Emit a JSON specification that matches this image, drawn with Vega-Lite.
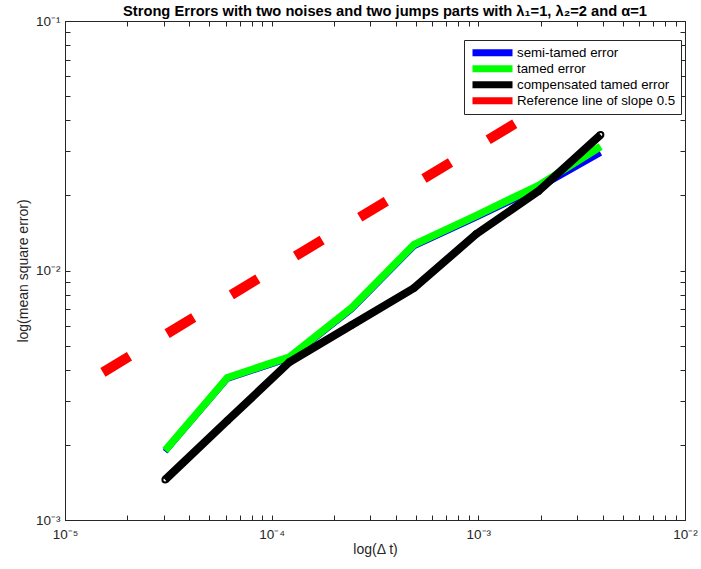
{
  "$schema": "https://vega.github.io/schema/vega-lite/v6.json",
  "width": 620,
  "height": 499,
  "autosize": "none",
  "padding": {"left": 65, "top": 21, "right": 16, "bottom": 49},
  "background": "white",
  "title": {
    "text": "Strong Errors with two noises and two jumps parts with λ₁=1, λ₂=2 and α=1",
    "font": "Liberation Sans",
    "fontSize": 14.7,
    "fontWeight": "bold",
    "color": "#000000",
    "anchor": "middle",
    "offset": 6,
    "dx": 10,
    "dy": 11
  },
  "datasets": {
    "errs": [
      {"dt": 3.0518e-5, "err": 0.00188, "series": "semi-tamed error"},
      {"dt": 6.1035e-5, "err": 0.00368, "series": "semi-tamed error"},
      {"dt": 1.2207e-4, "err": 0.00445, "series": "semi-tamed error"},
      {"dt": 2.4414e-4, "err": 0.0070, "series": "semi-tamed error"},
      {"dt": 4.8828e-4, "err": 0.0125, "series": "semi-tamed error"},
      {"dt": 9.7656e-4, "err": 0.0163, "series": "semi-tamed error"},
      {"dt": 1.9531e-3, "err": 0.0214, "series": "semi-tamed error"},
      {"dt": 3.9063e-3, "err": 0.0296, "series": "semi-tamed error"},
      {"dt": 3.0518e-5, "err": 0.0019, "series": "tamed error"},
      {"dt": 6.1035e-5, "err": 0.00372, "series": "tamed error"},
      {"dt": 1.2207e-4, "err": 0.0045, "series": "tamed error"},
      {"dt": 2.4414e-4, "err": 0.0071, "series": "tamed error"},
      {"dt": 4.8828e-4, "err": 0.0127, "series": "tamed error"},
      {"dt": 9.7656e-4, "err": 0.0166, "series": "tamed error"},
      {"dt": 1.9531e-3, "err": 0.0219, "series": "tamed error"},
      {"dt": 3.9063e-3, "err": 0.0314, "series": "tamed error"},
      {"dt": 3.0518e-5, "err": 0.00145, "series": "compensated tamed error"},
      {"dt": 6.1035e-5, "err": 0.0025, "series": "compensated tamed error"},
      {"dt": 1.2207e-4, "err": 0.0043, "series": "compensated tamed error"},
      {"dt": 2.4414e-4, "err": 0.00605, "series": "compensated tamed error"},
      {"dt": 4.8828e-4, "err": 0.0085, "series": "compensated tamed error"},
      {"dt": 9.7656e-4, "err": 0.0140, "series": "compensated tamed error"},
      {"dt": 1.9531e-3, "err": 0.0208, "series": "compensated tamed error"},
      {"dt": 3.9063e-3, "err": 0.0350, "series": "compensated tamed error"},
      {"dt": 1.5259e-5, "err": 0.003906, "series": "Reference line of slope 0.5"},
      {"dt": 1.9531e-3, "err": 0.04419, "series": "Reference line of slope 0.5"}
    ]
  },
  "data": {"name": "errs"},
  "resolve": {"axis": {"x": "independent", "y": "independent"}},
  "layer": [
    {
      "transform": [{"filter": "datum.series === 'semi-tamed error'"}],
      "mark": {"type": "line", "strokeWidth": 6},
      "encoding": {
        "x": {
          "field": "dt", "type": "quantitative",
          "scale": {"type": "log", "domain": [1e-5, 1e-2], "nice": false},
          "axis": {
            "orient": "bottom",
            "values": [1e-5, 2e-5, 3e-5, 4e-5, 5e-5, 6e-5, 7e-5, 8e-5, 9e-5, 1e-4, 2e-4, 3e-4, 4e-4, 5e-4, 6e-4, 7e-4, 8e-4, 9e-4, 1e-3, 2e-3, 3e-3, 4e-3, 5e-3, 6e-3, 7e-3, 8e-3, 9e-3, 1e-2],
            "labelExpr": "abs(datum.value / pow(10, round(log(datum.value)/LN10)) - 1) < 0.001 ? '10' + ['⁰','⁻¹','⁻²','⁻³','⁻⁴','⁻⁵'][-round(log(datum.value)/LN10)] : ''",
            "labelPadding": 12,
            "title": "log(Δ t)",
            "titlePadding": 2
          }
        },
        "y": {
          "field": "err", "type": "quantitative",
          "scale": {"type": "log", "domain": [1e-3, 1e-1], "nice": false},
          "axis": {
            "orient": "left",
            "values": [1e-3, 2e-3, 3e-3, 4e-3, 5e-3, 6e-3, 7e-3, 8e-3, 9e-3, 1e-2, 2e-2, 3e-2, 4e-2, 5e-2, 6e-2, 7e-2, 8e-2, 9e-2, 1e-1],
            "labelExpr": "abs(datum.value / pow(10, round(log(datum.value)/LN10)) - 1) < 0.001 ? '10' + ['⁰','⁻¹','⁻²','⁻³','⁻⁴','⁻⁵'][-round(log(datum.value)/LN10)] : ''",
            "labelPadding": 10,
            "title": "log(mean square error)",
            "titlePadding": 5
          }
        },
        "color": {
          "field": "series", "type": "nominal",
          "scale": {
            "domain": ["semi-tamed error", "tamed error", "compensated tamed error", "Reference line of slope 0.5"],
            "range": ["#0000ff", "#00ff00", "#000000", "#ff0000"]
          }
        }
      }
    },
    {
      "transform": [{"filter": "datum.series === 'tamed error'"}],
      "mark": {"type": "line", "strokeWidth": 7.5},
      "encoding": {
        "x": {"field": "dt", "type": "quantitative", "axis": null},
        "y": {"field": "err", "type": "quantitative", "axis": null},
        "color": {"field": "series", "type": "nominal"}
      }
    },
    {
      "transform": [{"filter": "datum.series === 'compensated tamed error'"}],
      "mark": {"type": "line", "strokeWidth": 8, "point": {"filled": false, "size": 30, "strokeWidth": 2, "color": "#000000"}},
      "encoding": {
        "x": {"field": "dt", "type": "quantitative", "axis": null},
        "y": {"field": "err", "type": "quantitative", "axis": null},
        "color": {"field": "series", "type": "nominal"}
      }
    },
    {
      "transform": [{"filter": "datum.series === 'Reference line of slope 0.5'"}],
      "mark": {"type": "line", "strokeWidth": 10, "strokeDash": [31, 44]},
      "encoding": {
        "x": {"field": "dt", "type": "quantitative", "axis": null},
        "y": {"field": "err", "type": "quantitative", "axis": null},
        "color": {"field": "series", "type": "nominal"}
      }
    },
    {
      "mark": {"type": "line", "opacity": 0},
      "encoding": {
        "x": {
          "field": "dt", "type": "quantitative",
          "axis": {
            "orient": "top", "labels": false, "title": null,
            "values": [1e-5, 2e-5, 3e-5, 4e-5, 5e-5, 6e-5, 7e-5, 8e-5, 9e-5, 1e-4, 2e-4, 3e-4, 4e-4, 5e-4, 6e-4, 7e-4, 8e-4, 9e-4, 1e-3, 2e-3, 3e-3, 4e-3, 5e-3, 6e-3, 7e-3, 8e-3, 9e-3, 1e-2]
          }
        },
        "y": {
          "field": "err", "type": "quantitative",
          "axis": {
            "orient": "right", "labels": false, "title": null,
            "values": [1e-3, 2e-3, 3e-3, 4e-3, 5e-3, 6e-3, 7e-3, 8e-3, 9e-3, 1e-2, 2e-2, 3e-2, 4e-2, 5e-2, 6e-2, 7e-2, 8e-2, 9e-2, 1e-1]
          }
        },
        "detail": {"field": "series", "type": "nominal"}
      }
    }
  ],
  "config": {
    "view": {"stroke": "#262626", "strokeWidth": 1},
    "axis": {
      "grid": false,
      "domainColor": "#262626",
      "tickColor": "#262626",
      "tickSize": -5,
      "labelFont": "Liberation Sans",
      "labelFontSize": 13.5,
      "labelColor": "#262626",
      "labelFlush": false,
      "labelOverlap": false,
      "labelBound": false,
      "titleFont": "Liberation Sans",
      "titleFontSize": 14,
      "titleFontWeight": "normal",
      "titleColor": "#262626"
    },
    "legend": {
      "orient": "none",
      "legendX": 399,
      "legendY": 19,
      "title": null,
      "symbolType": "M-2.5,0L2.5,0",
      "symbolSize": 256,
      "symbolStrokeWidth": 7,
      "symbolOffset": 12,
      "labelOffset": 13,
      "labelFont": "Liberation Sans",
      "labelFontSize": 13.3,
      "labelColor": "#000000",
      "strokeColor": "#262626",
      "fillColor": "white",
      "padding": 5,
      "clipHeight": 15.4,
      "rowPadding": 0,
      "labelLimit": 300
    }
  }
}
